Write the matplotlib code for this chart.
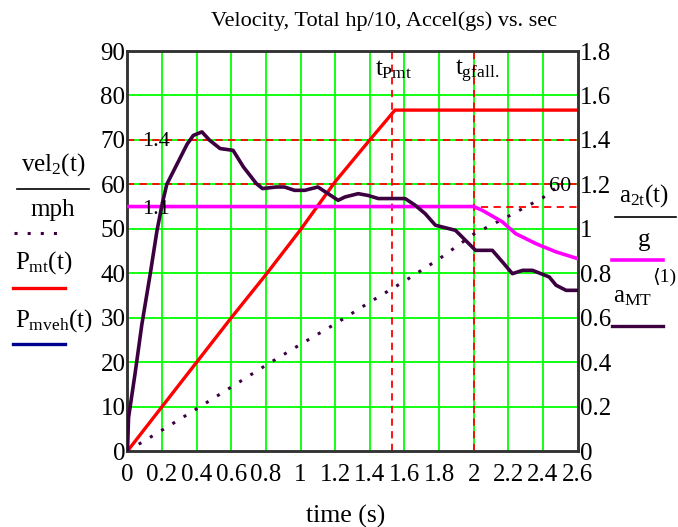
import numpy as np
import matplotlib
matplotlib.use("Agg")
import matplotlib.pyplot as plt
from matplotlib.lines import Line2D

plt.rcParams['font.family'] = ['Liberation Serif', 'DejaVu Serif', 'DejaVu Sans']
plt.rcParams['mathtext.fontset'] = 'custom'
plt.rcParams['mathtext.rm'] = 'Liberation Serif'
plt.rcParams['mathtext.it'] = 'Liberation Serif'
plt.rcParams['mathtext.bf'] = 'Liberation Serif'

# data
t_pmt = [0, 0.2, 0.4, 0.6, 0.8, 1.0, 1.2, 1.4, 1.5, 1.545, 1.57, 2.6]
p_mt = [0, 10, 20, 30, 39.7, 49.8, 60.6, 70, 74.6, 76.7, 76.7, 76.7]

t_vel = [0, 0.2, 0.4, 0.6, 0.8, 1.0, 1.2, 1.4, 1.6, 1.8, 2.0, 2.2, 2.4, 2.47]
vel = [0, 4.7, 9.5, 14.4, 19.3, 24.0, 28.6, 33.5, 38.2, 43.2, 48.8, 52.8, 57.0, 59.0]

t_amt = [0, 0.006, 0.044, 0.083, 0.132, 0.17, 0.2, 0.227, 0.305, 0.344, 0.38, 0.43,
         0.475, 0.535, 0.61, 0.67, 0.745, 0.78, 0.86, 0.907, 0.965, 1.024, 1.1, 1.159,
         1.217, 1.256, 1.333, 1.39, 1.449, 1.604, 1.662, 1.72, 1.779, 1.895, 1.953,
         2.011, 2.108, 2.166, 2.224, 2.283, 2.34, 2.437, 2.476, 2.534, 2.6]
a_mt = [0, 0.15, 0.35, 0.57, 0.8, 0.99, 1.11, 1.2, 1.32, 1.38, 1.42, 1.436,
        1.398, 1.361, 1.353, 1.278, 1.203, 1.181, 1.188, 1.188, 1.173, 1.173, 1.188, 1.158,
        1.128, 1.143, 1.158, 1.15, 1.136, 1.136, 1.106, 1.068, 1.016, 0.993, 0.948,
        0.903, 0.903, 0.851, 0.798, 0.813, 0.813, 0.783, 0.746, 0.723, 0.723]

t_a2 = [0, 2.0, 2.05, 2.166, 2.243, 2.36, 2.476, 2.6]
a_2 = [1.1, 1.1, 1.083, 1.031, 0.978, 0.933, 0.896, 0.866]

t_markers = [1.527, 2.0]
y_markers_left = [70, 60]
y_markers_right = [1.1]

xticks = [0, 0.2, 0.4, 0.6, 0.8, 1, 1.2, 1.4, 1.6, 1.8, 2, 2.2, 2.4, 2.6]
xlabels = ['0', '0.2', '0.4', '0.6', '0.8', '1', '1.2', '1.4', '1.6', '1.8', '2', '2.2', '2.4', '2.6']
yticks_r = [0, 0.2, 0.4, 0.6, 0.8, 1.0, 1.2, 1.4, 1.6, 1.8]
ylabels_r = ['0', '0.2', '0.4', '0.6', '0.8', '1', '1.2', '1.4', '1.6', '1.8']

red = '#ff0000'
green = '#00ff00'
mag = '#ff00ff'
purp = '#3c0040'
navy = '#000090'

fig = plt.figure(figsize=(6.78, 5.27), dpi=100)
ax = fig.add_axes([127.5/678, 1-451/527, 450/678, 400/527])
ax2 = ax.twinx()

ax.set_xlim(0, 2.6)
ax.set_ylim(0, 90)
ax2.set_ylim(0, 1.8)
ax.set_xticks(xticks)
ax.set_xticklabels(xlabels)
ax.set_yticks(range(0, 91, 10))
ax2.set_yticks(yticks_r)
ax2.set_yticklabels(ylabels_r)
for a in (ax, ax2):
    a.tick_params(length=0, labelsize=18, pad=1.5)
    for s in a.spines.values():
        s.set_color('#333333')
        s.set_linewidth(1.8)
ax.tick_params(axis='x', pad=9.5)

for x in xticks[1:-1]:
    ax.axvline(x, color=green, lw=1.3, zorder=1)
for y in range(10, 90, 10):
    ax.axhline(y, color=green, lw=1.3, zorder=1)

for x in t_markers:
    ax.axvline(x, color=red, lw=1.3, ls=(0, (4, 3)), zorder=2)
for y in y_markers_left:
    ax.axhline(y, color=red, lw=1.3, ls=(0, (4, 3)), zorder=2)
for y in y_markers_right:
    ax2.axhline(y, color=red, lw=1.3, ls=(0, (4, 3)), zorder=2)

ax.plot(t_vel, vel, color=purp, lw=2.2, ls=(0, (1, 3.3)), dash_capstyle='butt', zorder=3)
ax.plot(t_pmt, p_mt, color=red, lw=2.4, zorder=4)
ax2.plot(t_a2, a_2, color=mag, lw=2.6, zorder=3)
ax2.plot(t_amt, a_mt, color=purp, lw=2.6, zorder=4)

# helpers for text placed in figure pixels
def ftext(x, y, s, size=18, **kw):
    fig.text(x/678, 1-y/527, s, fontsize=size, **kw)

def fline(x0, x1, y, **kw):
    fig.add_artist(Line2D([x0/678, x1/678], [1-y/527, 1-y/527], transform=fig.transFigure, **kw))

ftext(142, 141, '1.4', size=16, va='center', ha='left', zorder=5)
ftext(142, 210, '1.1', size=16, va='center', ha='left', zorder=5)
ftext(571, 186, '60', size=16, va='center', ha='right', zorder=5)
ftext(375, 70, r'$t_{Pmt}$', size=18, va='center', ha='left', zorder=5)
ftext(455, 71, r'$t_{gfall.}$', size=18, va='center', ha='left', zorder=5)

ftext(384, 21, 'Velocity, Total hp/10, Accel(gs) vs. sec', size=16, ha='center', va='center')
ftext(346, 516, 'time (s)', size=18.5, ha='center', va='center')

# left legend
ftext(53, 165, r'$vel_2(t)$', ha='center', va='center')
fline(17, 89, 189, color='black', lw=1.2)
ftext(53, 210, 'mph', ha='center', va='center')
fline(14, 64, 233, color=purp, lw=2.2, ls=(0, (1, 3.3)), dash_capstyle='butt')
ftext(15, 263, r'$P_{mt}(t)$', ha='left', va='center')
fline(13, 65, 288, color=red, lw=2.4)
ftext(15, 321, r'$P_{mveh}(t)$', ha='left', va='center')
fline(13, 65, 344, color=navy, lw=2.4)

# right legend
ftext(644, 196, r'$a_{2t}(t)$', ha='center', va='center')
fline(615, 676, 217, color='black', lw=1.2)
ftext(644, 240, 'g', ha='center', va='center')
fline(612, 663, 260, color=mag, lw=2.6)
ftext(613, 297, r'$a_{MT}$', ha='left', va='center')
ftext(652, 277, '\u27e81)', size=14, ha='left', va='center')
fline(612, 663, 326, color=purp, lw=2.4)

fig.savefig('out.png', dpi=100)
